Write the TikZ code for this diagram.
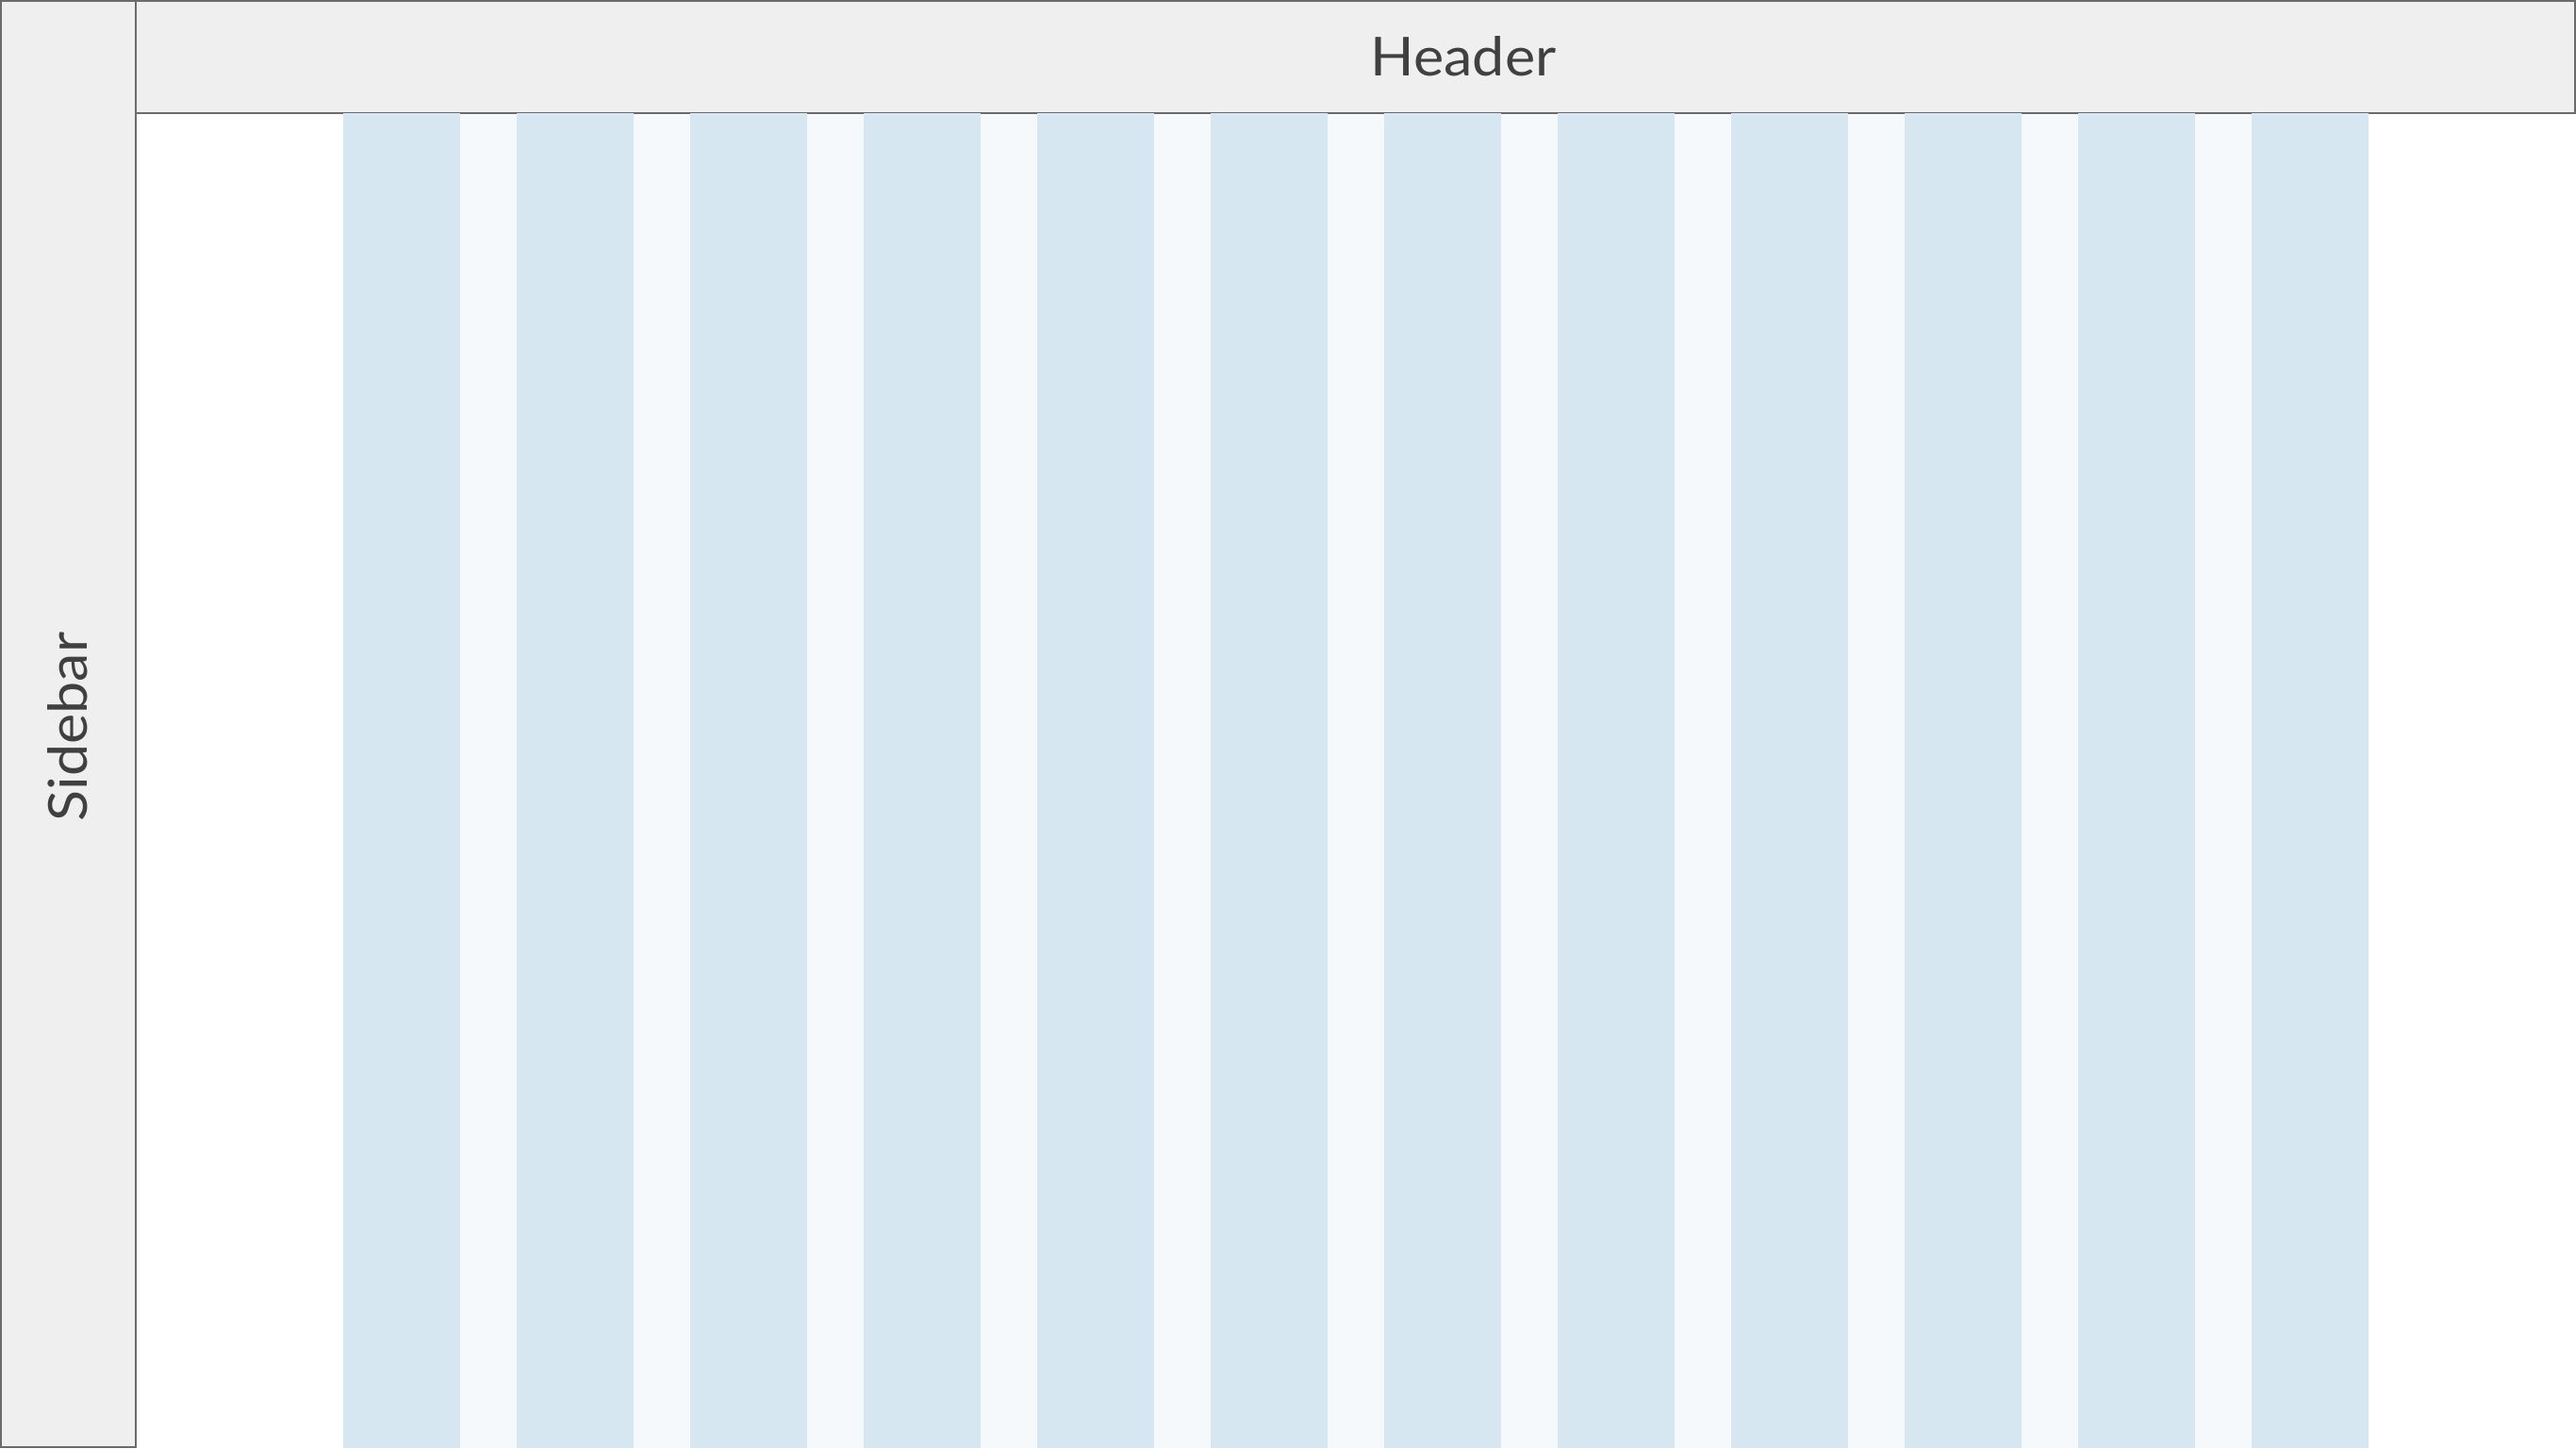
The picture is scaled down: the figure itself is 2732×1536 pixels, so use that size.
\documentclass[tikz,border=0pt]{standalone}
\usepackage{fontspec}
\setmainfont{Lato}
\newfontfamily\labelfont[FakeStretch=1.07]{Lato}
\definecolor{panelfill}{HTML}{EFEFEF}
\definecolor{panelline}{HTML}{6B6B6B}
\definecolor{coltone}{HTML}{D6E7F1}
\definecolor{guttertone}{HTML}{F5F9FC}
\definecolor{labeltext}{HTML}{404040}
\tikzset{
  panel/.style={draw=panelline, line width=2pt, fill=panelfill, inner sep=0pt, outer sep=0pt, anchor=north west},
  gridcol/.style={fill=coltone, inner sep=0pt, outer sep=0pt, anchor=north west, minimum width=124pt, minimum height=1416pt},
  gridgutter/.style={fill=guttertone, inner sep=0pt, outer sep=0pt, anchor=north west, minimum width=60pt, minimum height=1415pt},
  biglabel/.style={text=labeltext, font=\labelfont\fontsize{57}{60}\selectfont, inner sep=0pt}
}
\begin{document}
\begin{tikzpicture}[x=1pt, y=-1pt]
\useasboundingbox[fill=white] (0,0) rectangle (2732,1536);
% sidebar
\node[panel, minimum width=143pt, minimum height=1534pt] (sidebar) at (1,1) {};
% header
\node[panel, minimum width=2587pt, minimum height=119pt] (header) at (144,1) {};
% gutters
\foreach \i in {1,...,11} {
  \node[gridgutter] (g\i) at ({364+124+(\i-1)*184},121) {};
}
% columns
\foreach \i in {1,...,12} {
  \node[gridcol] (c\i) at ({364+(\i-1)*184},120) {};
}
% labels
\node[biglabel] (headerlabel) at (1552,60) {Header};
\node[biglabel, rotate=90] (sidebarlabel) at (72,771) {Sidebar};
\end{tikzpicture}
\end{document}
